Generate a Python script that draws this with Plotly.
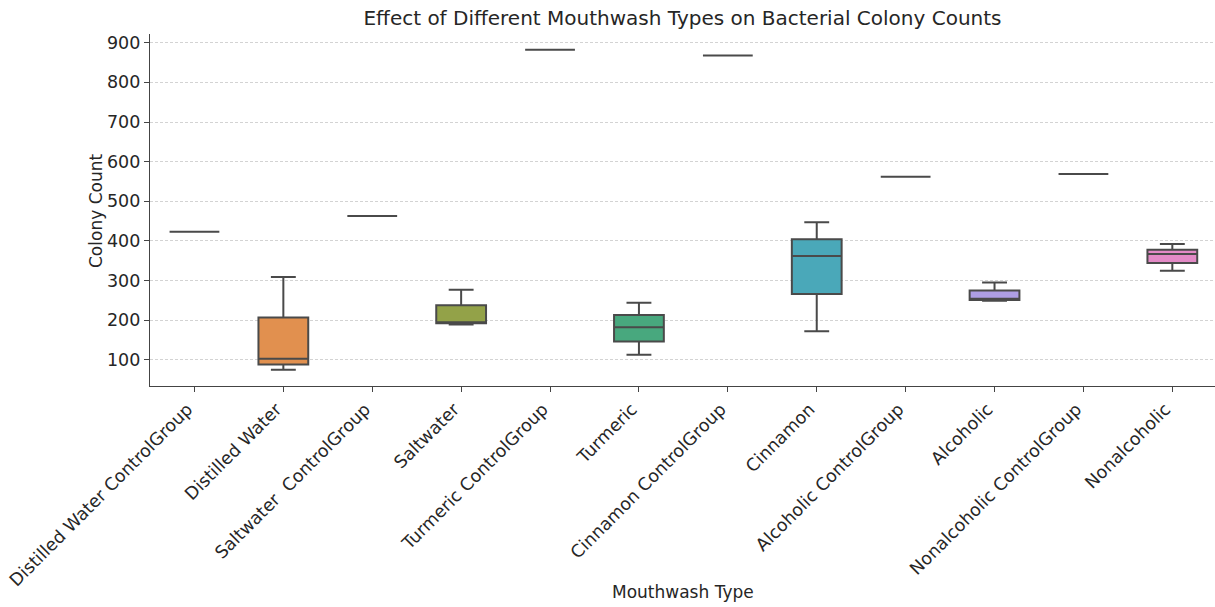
import plotly.graph_objects as go

categories = [
    "Distilled Water ControlGroup", "Distilled Water", "Saltwater  ControlGroup", "Saltwater",
    "Turmeric ControlGroup", "Turmeric", "Cinnamon ControlGroup", "Cinnamon",
    "Alcoholic ControlGroup", "Alcoholic", "Nonalcoholic ControlGroup", "Nonalcoholic",
]
lower = [423, 75, 463, 189, 882, 113, 868, 172, 562, 249, 569, 325]
q1 = [423, 88, 463, 192, 882, 146, 868, 266, 562, 251, 569, 344]
median = [423, 103, 463, 194, 882, 182, 868, 362, 562, 254, 569, 367]
q3 = [423, 207, 463, 238, 882, 213, 868, 404, 562, 275, 569, 378]
upper = [423, 309, 463, 277, 882, 244, 868, 447, 562, 295, 569, 392]
colors = [
    "#E0827F", "#E1904F", "#C7A84E", "#93A248", "#55AB6A", "#48A87E",
    "#4AA99E", "#4AA8B9", "#6EA0D9", "#AE9EE4", "#D48BD8", "#E38AC6",
]
tick_text = [c.replace("  ", "\u00a0 ") for c in categories]

fig = go.Figure()
for i, c in enumerate(categories):
    fig.add_trace(go.Box(
        x=[c], q1=[q1[i]], median=[median[i]], q3=[q3[i]],
        lowerfence=[lower[i]], upperfence=[upper[i]],
        fillcolor=colors[i], line=dict(color="#4a4a4a", width=2),
        whiskerwidth=0.5, boxpoints=False, showlegend=False,
        hoverinfo="skip",
    ))

font = "DejaVu Sans"
fs = 17.5
fig.update_layout(
    width=1215, height=607,
    margin=dict(l=150, r=0, t=34, b=221),
    plot_bgcolor="white", paper_bgcolor="white",
    boxgap=0.2, boxmode="overlay",
    font=dict(family=font, size=fs, color="#262626"),
    title=dict(text="Effect of Different Mouthwash Types on Bacterial Colony Counts",
               x=0.5, xref="paper", y=1 - 18 / 607, yref="container",
               xanchor="center", yanchor="middle",
               font=dict(family=font, size=20, color="#262626")),
    xaxis=dict(
        type="category", categoryorder="array", categoryarray=categories,
        tickvals=categories, ticktext=tick_text, automargin=False,
        range=[-0.5, 11.48], tickangle=-45, ticklabelshift=-7,
        showline=True, linecolor="#444444", linewidth=1.3,
        ticks="outside", ticklen=5, tickcolor="#444444",
        showgrid=False, zeroline=False,
        tickfont=dict(family=font, size=fs, color="#262626"),
    ),
    yaxis=dict(
        range=[34, 922], tickvals=[100, 200, 300, 400, 500, 600, 700, 800, 900],
        automargin=False,
        showline=True, linecolor="#444444", linewidth=1.3,
        ticks="outside", ticklen=5, tickcolor="#444444",
        showgrid=True, gridcolor="#d3d3d3", griddash="3px,2px", gridwidth=1,
        zeroline=False,
        tickfont=dict(family=font, size=fs, color="#262626"),
    ),
    annotations=[
        dict(text="Mouthwash Type", x=0.5, xref="paper", y=(386 - 592) / 352, yref="paper",
             xanchor="center", yanchor="middle", showarrow=False,
             font=dict(family=font, size=17, color="#262626")),
        dict(text="Colony Count", x=(96 - 150) / 1065, xref="paper", y=(386 - 211) / 352, yref="paper",
             xanchor="center", yanchor="middle", textangle=-90, showarrow=False,
             font=dict(family=font, size=17, color="#262626")),
    ],
)

fig.write_html("out.html", config={"displayModeBar": False},
               post_script="document.body.style.margin='0';document.body.style.overflow='hidden';")
